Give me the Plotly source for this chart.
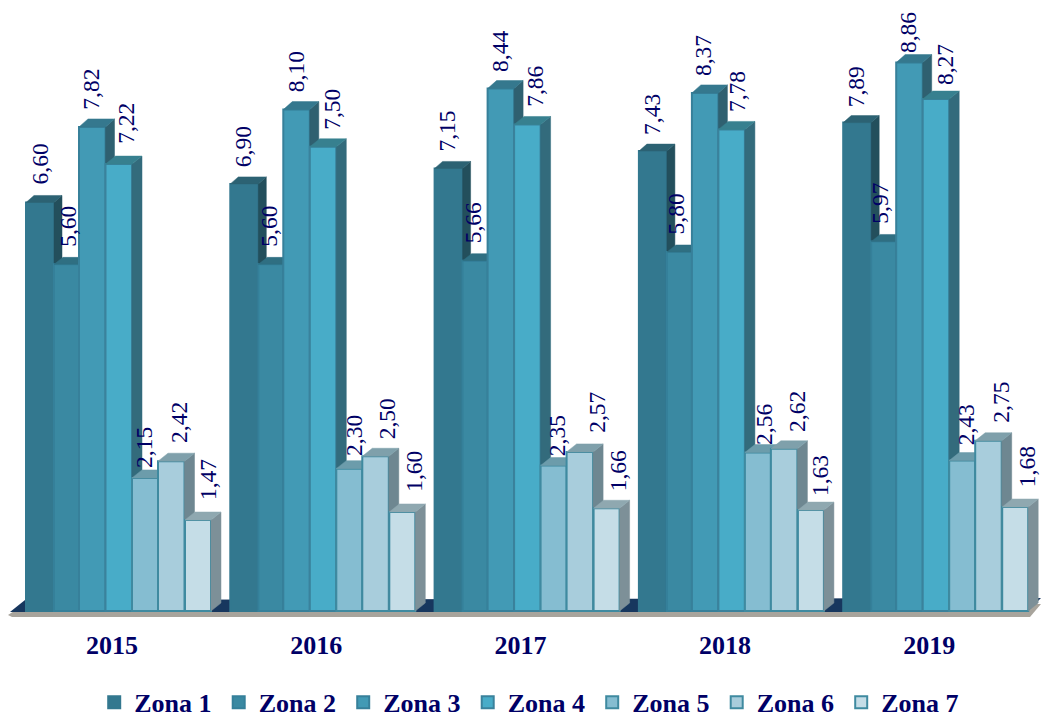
import plotly.graph_objects as go

years = ["2015", "2016", "2017", "2018", "2019"]
zones = ["Zona 1", "Zona 2", "Zona 3", "Zona 4", "Zona 5", "Zona 6", "Zona 7"]
zona1 = [6.60, 6.90, 7.15, 7.43, 7.89]
zona2 = [5.60, 5.60, 5.66, 5.80, 5.97]
zona3 = [7.82, 8.10, 8.44, 8.37, 8.86]
zona4 = [7.22, 7.50, 7.86, 7.78, 8.27]
zona5 = [2.15, 2.30, 2.35, 2.56, 2.43]
zona6 = [2.42, 2.50, 2.57, 2.62, 2.75]
zona7 = [1.47, 1.60, 1.66, 1.63, 1.68]
series = [zona1, zona2, zona3, zona4, zona5, zona6, zona7]

front = ["#33788F", "#3A89A2", "#429AB5", "#48ACC8", "#85BDD1", "#A8CDDC", "#C5DDE7"]
side = ["#234F5C", "#2F6778", "#2F6070", "#336B7C", "#3F7A8A", "#6E8791", "#7D9098"]
top = ["#2C6273", "#2F6F82", "#35788E", "#37808F", "#6C9CAB", "#7FA0AB", "#8FA8B0"]
edge = ["#33788F", "#35809A", "#37809A", "#3A829C", "#3F8AA0", "#3F8AA0", "#3F8AA0"]
NAVY = "#000066"

W, H = 1041, 715
BASE_PX, PX_PER_UNIT = 611, 61.9
GROUP0_PX, GROUP_PX = 118, 204.3
left_px = [-92, -64, -39, -12.5, 14, 40, 67]
width_px = [28, 25, 26.5, 26.5, 26, 26.5, 26]
depth_x = [8, 9, 9, 10, 10, 10, 10]
depth_y = [7, 7, 8, 8, 8, 8, 8]
# Hand placement of each rotated value label, in pixels from its bar (zone by year)
label_dx = [
    [0, -0.5, -1.5, -1.5, -1.5],
    [2, -1.5, -2.5, -3, -3.5],
    [-1, -1, -1.5, -1.5, -2],
    [6.5, 9.5, 8, 6, 8.5],
    [-0.5, 4, 3, 5.5, 3.5],
    [7, 11, 17.5, 13.5, 13],
    [9.5, 12, 11, 8.5, 11.5],
]
label_dy = [
    [15.5, 15, 14.5, 14, 13.5],
    [15.5, 15.5, 15.5, 15.5, 15.5],
    [15, 15.5, 14.5, 15, 7.5],
    [18, 15, 15.5, 15.5, 12],
    [8, 10.5, 7.5, 5.5, 13.5],
    [16, 15, 17, 15, 16],
    [18, 18, 15, 12, 18],
]

gx = lambda px: px / GROUP_PX
vy = lambda px: px / PX_PER_UNIT
fig = go.Figure()

for k, (name, vals) in enumerate(zip(zones, series)):
    ya = "y" if k == 0 else f"y{k + 1}"
    sx, sy, tx, ty = [], [], [], []
    for i, v in enumerate(vals):
        xl = i + gx(left_px[k])
        xr = xl + gx(width_px[k])
        dx, dy = gx(depth_x[k]), vy(depth_y[k])
        sx += [xr, xr + dx, xr + dx, xr, xr, None]
        sy += [0, dy, v + dy, v, 0, None]
        tx += [xl, xl + dx, xr + dx, xr, xl, None]
        ty += [v, v + dy, v + dy, v, v, None]
    fig.add_trace(go.Bar(
        x=list(range(len(years))), y=vals, name=name, yaxis=ya,
        offset=gx(left_px[k]), width=gx(width_px[k]),
        marker=dict(color=front[k], line=dict(color=edge[k], width=2)),
        hoverinfo="y",
    ))
    fig.add_trace(go.Scatter(x=sx, y=sy, yaxis=ya, mode="lines", fill="toself", fillcolor=side[k],
                             line=dict(width=0.5, color=side[k]), showlegend=False, hoverinfo="skip"))
    fig.add_trace(go.Scatter(x=tx, y=ty, yaxis=ya, mode="lines", fill="toself", fillcolor=top[k],
                             line=dict(width=0.5, color=top[k]), showlegend=False, hoverinfo="skip"))
    for i, v in enumerate(vals):
        fig.add_annotation(
            x=i + gx(left_px[k] + width_px[k] / 2), y=v, xref="x", yref="y",
            text=f"{v:.2f}".replace(".", ","), textangle=-90, showarrow=False,
            xanchor="center", yanchor="bottom", xshift=label_dx[k][i], yshift=label_dy[k][i],
            font=dict(family="Liberation Serif", size=23.5, color=NAVY),
        )

xr0, xr1 = -GROUP0_PX / GROUP_PX, (W - GROUP0_PX) / GROUP_PX
yr0, yr1 = -(H - BASE_PX) / PX_PER_UNIT, BASE_PX / PX_PER_UNIT
yax = dict(range=[yr0, yr1], visible=False, fixedrange=True)
layout = dict(yaxis=dict(yax))
for k in range(1, 7):
    layout[f"yaxis{k + 1}"] = dict(yax, overlaying="y")
fig.update_layout(**layout)


def floor_path(pts):
    return "M " + " L ".join(f"{x},{y}" for x, y in pts) + " Z"


fig.update_layout(
    width=W, height=H, margin=dict(l=0, r=0, t=0, b=0, autoexpand=False), autosize=False,
    paper_bgcolor="white", plot_bgcolor="rgba(0,0,0,0)", barmode="overlay",
    xaxis=dict(range=[xr0, xr1], tickmode="array", tickvals=[i - gx(6) for i in range(5)], ticktext=years,
               showgrid=False, zeroline=False, showline=False, ticks="", fixedrange=True,
               anchor="free", position=(H - BASE_PX) / H, ticklabelstandoff=16,
               tickfont=dict(family="Liberation Serif", size=26, color=NAVY, weight=700)),
    legend=dict(orientation="h", x=0.0905, xanchor="left", y=-0.015, yanchor="bottom", entrywidth=79.5,
                entrywidthmode="pixels", traceorder="normal", itemclick=False, itemdoubleclick=False,
                bgcolor="rgba(0,0,0,0)",
                font=dict(family="Liberation Serif", size=26, color=NAVY, weight=700)),
    showlegend=True,
    shapes=[
        dict(type="path", xref="paper", yref="paper", layer="below", line=dict(width=0), fillcolor="#A8A49C",
             path=floor_path([(8 / W, 1 - 615 / H), (25 / W, 1 - 604 / H), (1 + 0, 1 - 604 / H),
                              (1030 / W, 1 - 617 / H), (12 / W, 1 - 617 / H)])),
        dict(type="path", xref="paper", yref="paper", layer="below", line=dict(width=0), fillcolor="#17375E",
             path=floor_path([(10 / W, 1 - 612 / H), (25 / W, 1 - 600 / H), (1 + 0, 1 - 598 / H),
                              (1027 / W, 1 - 612 / H)])),
    ],
)
fig.write_html("out.html", post_script="document.body.style.margin='0';", config=dict(displayModeBar=False))
